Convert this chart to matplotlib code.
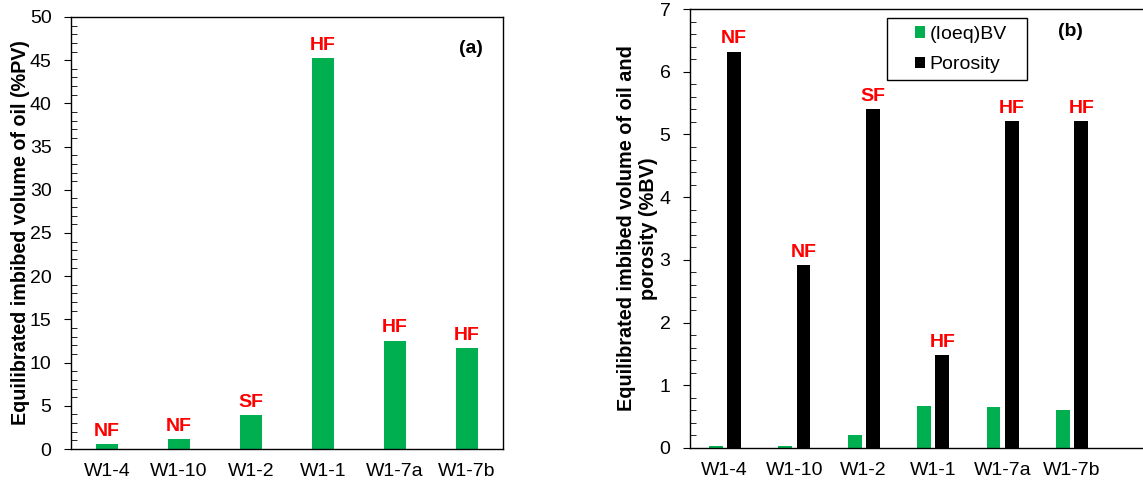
import matplotlib.pyplot as plt
from matplotlib.patches import Rectangle
from matplotlib.ticker import MultipleLocator

plt.rcParams["font.family"] = ["Liberation Sans", "DejaVu Sans"]

SAMPLES = ["W1-4", "W1-10", "W1-2", "W1-1", "W1-7a", "W1-7b"]
FRACTURE = ["NF", "NF", "SF", "HF", "HF", "HF"]
IMBIBED_PV = [0.58, 1.12, 3.97, 45.2, 12.55, 11.64]
IMBIBED_BV = [0.03, 0.03, 0.21, 0.67, 0.65, 0.61]
POROSITY = [6.32, 2.91, 5.41, 1.48, 5.21, 5.21]

GREEN = "#00B050"
RED = "#FF0000"


def style_axis(axis, major, minor):
    axis.yaxis.set_major_locator(MultipleLocator(major))
    axis.yaxis.set_minor_locator(MultipleLocator(minor))
    axis.tick_params(axis="y", which="major", direction="out", length=5, labelsize=14, pad=9)
    axis.tick_params(axis="y", which="minor", direction="in", length=4)
    axis.tick_params(axis="x", length=0, labelsize=14, pad=10)
    for spine in axis.spines.values():
        spine.set_linewidth(1.0)


def label_bars(axis, xs, heights):
    for x, h, tag in zip(xs, heights, FRACTURE):
        axis.annotate(tag, (x, h), xytext=(0, 3), textcoords="offset points",
                      ha="center", va="bottom", color=RED, fontsize=14, fontweight="bold")


fig = plt.figure(figsize=(11.43, 4.84), dpi=100)
xs = list(range(len(SAMPLES)))

# (a) imbibed oil as %PV
ax_a = fig.add_axes([0.0621, 0.0723, 0.378, 0.8926])
ax_a.bar(xs, IMBIBED_PV, width=0.31, color=GREEN)
ax_a.set_xlim(-0.5, 5.5)
ax_a.set_ylim(0, 50)
ax_a.set_xticks(xs, SAMPLES)
style_axis(ax_a, 5, 1)
ax_a.set_ylabel("Equilibrated imbibed volume of oil (%PV)", fontsize=14.2, fontweight="bold", labelpad=0)
label_bars(ax_a, xs, IMBIBED_PV)
ax_a.text(0.925, 0.928, "(a)", transform=ax_a.transAxes, ha="center", va="center",
          fontsize=14, fontweight="bold")

# (b) imbibed oil as %BV and porosity
ax_b = fig.add_axes([0.6037, 0.0744, 0.407, 0.907])
x_green = [x - 0.13 for x in xs]
x_black = [x + 0.135 for x in xs]
ax_b.bar(x_green, IMBIBED_BV, width=0.2, color=GREEN, label="(Ioeq)BV")
ax_b.bar(x_black, POROSITY, width=0.2, color="black", label="Porosity")
ax_b.set_xlim(-0.5, 6.2)
ax_b.set_ylim(0, 7)
ax_b.set_xticks(xs, SAMPLES)
style_axis(ax_b, 1, 0.2)
ax_b.set_ylabel("Equilibrated imbibed volume of oil and\nporosity (%BV)", fontsize=14.3,
                fontweight="bold", labelpad=1)
label_bars(ax_b, x_black, POROSITY)
ax_b.text(0.817, 0.948, "(b)", transform=ax_b.transAxes, ha="center", va="center",
          fontsize=14, fontweight="bold")

# Excel-style legend: wide box with entries near the left
ax_b.add_patch(Rectangle((0.4237, 0.8383), 0.301, 0.1412, transform=ax_b.transAxes,
                         facecolor="white", edgecolor="black", linewidth=1.0, zorder=4))
leg = ax_b.legend(loc="center left", bbox_to_anchor=(0.4839, 0.9078), frameon=False,
                  borderaxespad=0, borderpad=0, fontsize=14, handlelength=0.5,
                  handleheight=0.5, handletextpad=0.25, labelspacing=0.68)
leg.set_zorder(5)

fig.savefig("out.png", dpi=100)
